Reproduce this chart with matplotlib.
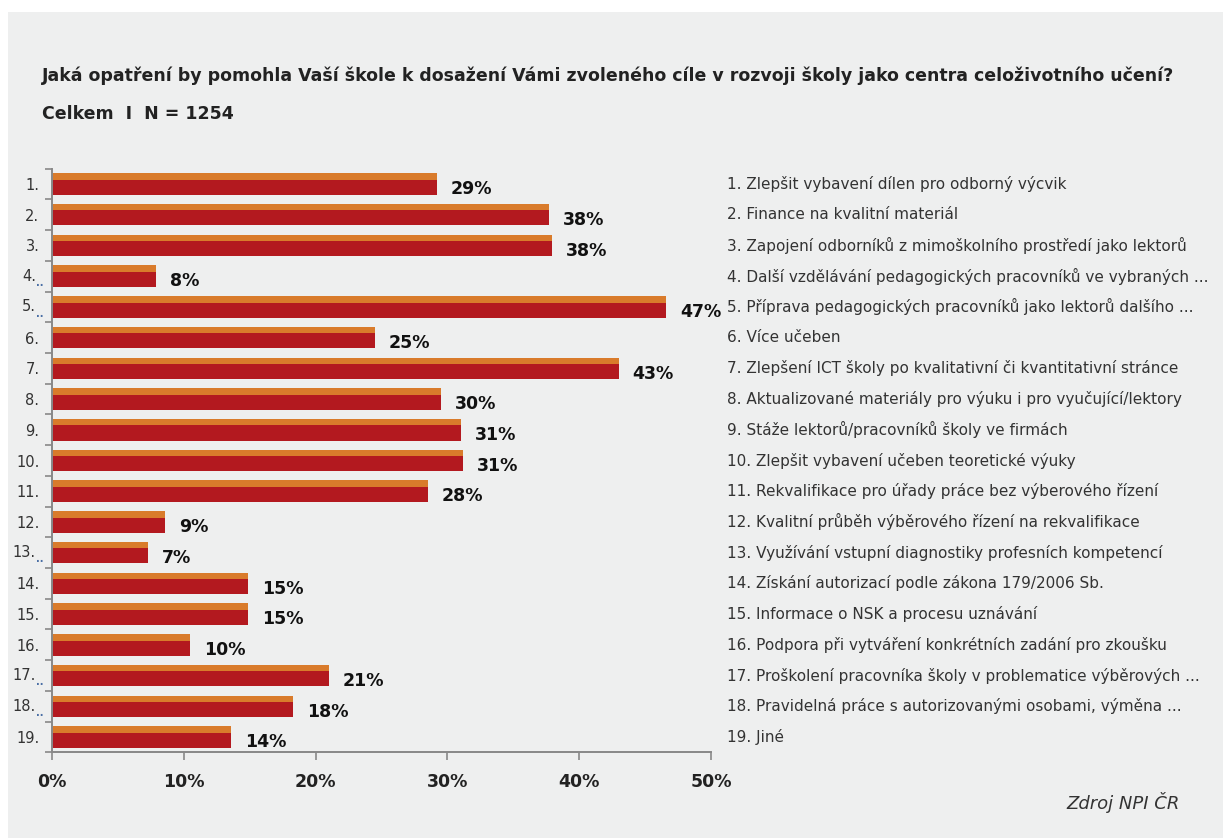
import matplotlib.pyplot as plt
from matplotlib.patches import Rectangle
from matplotlib.ticker import FixedLocator

# data
numbers = ["1.", "2.", "3.", "4.", "5.", "6.", "7.", "8.", "9.", "10.",
           "11.", "12.", "13.", "14.", "15.", "16.", "17.", "18.", "19."]
truncated = [4, 5, 13, 17, 18]
values = [29.2, 37.7, 37.9, 7.9, 46.6, 24.5, 43.0, 29.5, 31.0, 31.2,
          28.5, 8.6, 7.3, 14.9, 14.9, 10.5, 21.0, 18.3, 13.6]
labels = [29, 38, 38, 8, 47, 25, 43, 30, 31, 31, 28, 9, 7, 15, 15, 10, 21, 18, 14]
answers = [
    "1. Zlepšit vybavení dílen pro odborný výcvik",
    "2. Finance na kvalitní materiál",
    "3. Zapojení odborníků z mimoškolního prostředí jako lektorů",
    "4. Další vzdělávání pedagogických pracovníků ve vybraných ...",
    "5. Příprava pedagogických pracovníků jako lektorů dalšího ...",
    "6. Více učeben",
    "7. Zlepšení ICT školy po kvalitativní či kvantitativní stránce",
    "8. Aktualizované materiály pro výuku i pro vyučující/lektory",
    "9. Stáže lektorů/pracovníků školy ve firmách",
    "10. Zlepšit vybavení učeben teoretické výuky",
    "11. Rekvalifikace pro úřady práce bez výberového řízení",
    "12. Kvalitní průběh výběrového řízení na rekvalifikace",
    "13. Využívání vstupní diagnostiky profesních kompetencí",
    "14. Získání autorizací podle zákona 179/2006 Sb.",
    "15. Informace o NSK a procesu uznávání",
    "16. Podpora při vytváření konkrétních zadání pro zkoušku",
    "17. Proškolení pracovníka školy v problematice výběrových ...",
    "18. Pravidelná práce s autorizovanými osobami, výměna ...",
    "19. Jiné",
]
xticks = [0, 10, 20, 30, 40, 50]

RED = "#b3191f"
ORANGE = "#d97b2b"
BG = "#eeefef"
H = 0.7

fig = plt.figure(figsize=(12.23, 8.38), dpi=100)
fig.patch.set_facecolor("white")
fig.patches.append(Rectangle((8 / 1223, 0), 1, 1 - 12 / 838, transform=fig.transFigure,
                             facecolor=BG, edgecolor="none", zorder=-10))

ax = fig.add_axes([52 / 1223, 1 - 752.4 / 838, 659 / 1223, (752.4 - 168.6) / 838])
ax.set_facecolor("none")

pos = list(range(len(values)))
ax.barh(pos, values, height=H, color=RED, edgecolor="none")
ax.barh([p - H / 2 + 0.105 for p in pos], values, height=0.21, color=ORANGE,
        edgecolor="none")

for p, v, lab in zip(pos, values, labels):
    ax.annotate(f"{lab}%", (v, p + 0.17), xytext=(10, 0), textcoords="offset points",
                ha="left", va="center", fontsize=12.5, fontweight="bold",
                color="#111111", family="DejaVu Sans")

ax.set_xlim(0, 50)
ax.set_ylim(len(values) - 0.5, -0.5)
ax.set_xticks(xticks)
ax.set_xticklabels([f"{t}%" for t in xticks], fontsize=12.5, fontweight="bold",
                   color="#222222")
ax.set_yticks(pos)
ax.set_yticklabels([("" if i + 1 in truncated else n) for i, n in enumerate(numbers)],
                   fontsize=10.5, color="#333333")
ax.yaxis.set_minor_locator(FixedLocator([p - 0.5 for p in pos] + [len(pos) - 0.5]))
ax.tick_params(axis="y", which="major", length=0, pad=9)
ax.tick_params(axis="y", which="minor", length=5, color="#888888", width=1.2)
ax.tick_params(axis="x", length=6, color="#888888", width=1.2, pad=9)
for s in ["top", "right"]:
    ax.spines[s].set_visible(False)
for s in ["left", "bottom"]:
    ax.spines[s].set_color("#888888")
    ax.spines[s].set_linewidth(1.4)

# truncated row numbers: "4." followed by small blue dots
for n in truncated:
    ax.annotate(numbers[n - 1], (0, n - 1), xytext=(-11.5, 0), textcoords="offset points",
                ha="right", va="center", fontsize=10.5, color="#333333")
    ax.annotate("..", (0, n - 1 + 0.22), xytext=(-11.3, 0), textcoords="offset points",
                ha="left", va="center", fontsize=7, color="#4a6fa5",
                fontweight="bold")

for p, txt in zip(pos, answers):
    ax.annotate(txt, (0, p), xycoords=("figure fraction", "data"),
                xytext=(727, 0), textcoords=("figure pixels", "offset points"),
                ha="left", va="center", fontsize=11, color="#333333",
                family="DejaVu Sans")

fig.text(42 / 1223, 1 - 76 / 838,
         "Jaká opatření by pomohla Vaší škole k dosažení Vámi zvoleného cíle v rozvoji školy jako centra celoživotního učení?",
         fontsize=12.5, fontweight="bold", color="#222222", va="center",
         family="DejaVu Sans")
fig.text(42 / 1223, 1 - 114 / 838, "Celkem  I  N = 1254",
         fontsize=12.5, fontweight="bold", color="#222222", va="center",
         family="DejaVu Sans")
fig.text(1180 / 1223, 1 - 802 / 838, "Zdroj NPI ČR", fontsize=13, style="italic",
         color="#333333", ha="right", va="center", family="DejaVu Sans")

fig.savefig("out.png", dpi=100)
